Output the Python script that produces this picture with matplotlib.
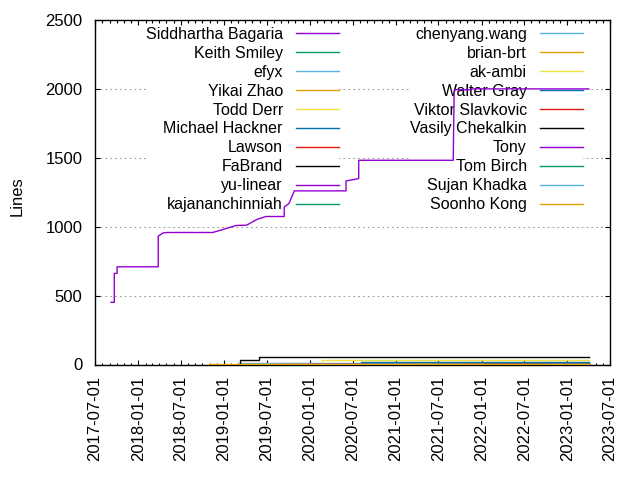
import numpy as np
import matplotlib; matplotlib.use("Agg")
import matplotlib.pyplot as plt
import matplotlib.dates as mdates

plt.rcParams["font.family"] = ["Liberation Sans", "DejaVu Sans"]

# gnuplot default colour cycle
palette = ["#9400d3", "#009e73", "#56b4e9", "#e69f00",
           "#f0e442", "#0072b2", "#e51e10", "#000000"]

authors = ["Siddhartha Bagaria", "Keith Smiley", "efyx", "Yikai Zhao",
           "Todd Derr", "Michael Hackner", "Lawson", "FaBrand", "yu-linear",
           "kajananchinniah", "chenyang.wang", "brian-brt", "ak-ambi",
           "Walter Gray", "Viktor Slavkovic", "Vasily Chekalkin", "Tony",
           "Tom Birch", "Sujan Khadka", "Soonho Kong"]

last_day = "2023-04-02"

# main contributor
sidd_dates = ["2017-09-07", "2017-09-21", "2017-09-21", "2017-10-03", "2017-10-03",
              "2018-03-27", "2018-03-27", "2018-04-17", "2018-05-05", "2018-11-14",
              "2018-12-22", "2019-02-21", "2019-04-07", "2019-05-20", "2019-06-28",
              "2019-09-14", "2019-09-14", "2019-10-04", "2019-10-27", "2020-06-03",
              "2020-06-03", "2020-07-27", "2020-07-27", "2021-09-02", "2021-09-06",
              "2021-09-12", "2021-11-16", "2021-11-16", last_day]
sidd_lines = [451, 451, 661, 661, 709,
              709, 931, 955, 958, 958,
              977, 1009, 1011, 1052, 1074,
              1074, 1143, 1168, 1260, 1260,
              1332, 1349, 1482, 1482, 1984,
              1994, 1994, 2000, 2000]

fabrand_dates = ["2019-03-10", "2019-03-10", "2019-05-31", "2019-05-31", last_day]
fabrand_lines = [0, 30, 30, 52, 52]

efyx_dates = ["2019-03-10", last_day]
efyx_lines = [11, 11]

todd_dates = ["2020-02-23", "2020-02-23", last_day]
todd_lines = [11, 32, 32]

hackner_dates = ["2020-08-05", last_day]
hackner_lines = [18, 18]

# everyone else sits on the floor
small_start = {"Keith Smiley": "2019-06-01", "Yikai Zhao": "2019-03-10",
               "Lawson": "2019-09-01", "yu-linear": "2020-01-10",
               "kajananchinniah": "2020-05-01", "chenyang.wang": "2020-09-01",
               "brian-brt": "2021-01-15", "ak-ambi": "2021-04-01",
               "Walter Gray": "2021-06-01", "Viktor Slavkovic": "2021-10-01",
               "Vasily Chekalkin": "2022-01-10", "Tony": "2022-04-01",
               "Tom Birch": "2022-07-01", "Sujan Khadka": "2022-10-01",
               "Soonho Kong": "2018-10-29"}
small_value = {"Keith Smiley": 2, "Yikai Zhao": 2, "Lawson": 2, "yu-linear": 3,
               "kajananchinniah": 2, "chenyang.wang": 3, "brian-brt": 2,
               "ak-ambi": 2, "Walter Gray": 3, "Viktor Slavkovic": 2,
               "Vasily Chekalkin": 3, "Tony": 2, "Tom Birch": 2,
               "Sujan Khadka": 2, "Soonho Kong": 3}

series = {"Siddhartha Bagaria": (sidd_dates, sidd_lines),
          "FaBrand": (fabrand_dates, fabrand_lines),
          "efyx": (efyx_dates, efyx_lines),
          "Todd Derr": (todd_dates, todd_lines),
          "Michael Hackner": (hackner_dates, hackner_lines)}
for a in small_start:
    series[a] = ([small_start[a], last_day], [small_value[a]] * 2)

fig = plt.figure(figsize=(6.4, 4.8), dpi=100)
ax = fig.add_axes([95 / 640, 1 - 364.5 / 480, 515 / 640, 344.5 / 480])

handles = []
for i, a in enumerate(authors):
    d, v = series[a]
    ln, = ax.plot(np.array(d, dtype="datetime64[D]"), v, color=palette[i % 8],
                  lw=1.0, label=a, zorder=3)
    handles.append(ln)

ax.set_xlim(np.datetime64("2017-07-01"), np.datetime64("2023-07-01"))
ax.set_ylim(0, 2500)
ax.set_yticks([0, 500, 1000, 1500, 2000, 2500])
ax.xaxis.set_major_locator(mdates.MonthLocator(bymonth=[1, 7]))
ax.xaxis.set_minor_locator(mdates.MonthLocator())
ax.xaxis.set_major_formatter(mdates.DateFormatter("%Y-%m-%d"))
ax.tick_params(which="both", direction="in", top=True, right=True, labelsize=12)
ax.tick_params(which="major", length=3.5, width=0.8)
ax.tick_params(which="minor", length=1.8, width=0.8)
ax.tick_params(axis="x", which="major", pad=8)
ax.tick_params(axis="y", which="major", pad=9)
for lab in ax.get_xticklabels():
    lab.set_rotation(90)
ax.grid(axis="y", color="#a0a0a0", ls=(0, (2, 3)), lw=0.7)
ax.set_axisbelow(True)
for s in ax.spines.values():
    s.set_linewidth(1.0)

ax.set_ylabel("Lines", fontsize=12, va="center")
ax.yaxis.set_label_coords(-0.152, 0.49)

legkw = dict(frameon=True, fancybox=False, edgecolor="none", facecolor="white",
             framealpha=1, markerfirst=False, fontsize=11.5, borderpad=0,
             labelspacing=0.245, handlelength=2.7, handletextpad=0.8,
             loc="upper right", borderaxespad=0)
leg1 = ax.legend(handles=handles[:10], bbox_to_anchor=(0.4732, 0.98), **legkw)
ax.add_artist(leg1)
leg2 = ax.legend(handles=handles[10:], bbox_to_anchor=(0.947, 0.98), **legkw)
leg1.set_zorder(2)
leg2.set_zorder(2)

fig.savefig("out.png", dpi=100)
